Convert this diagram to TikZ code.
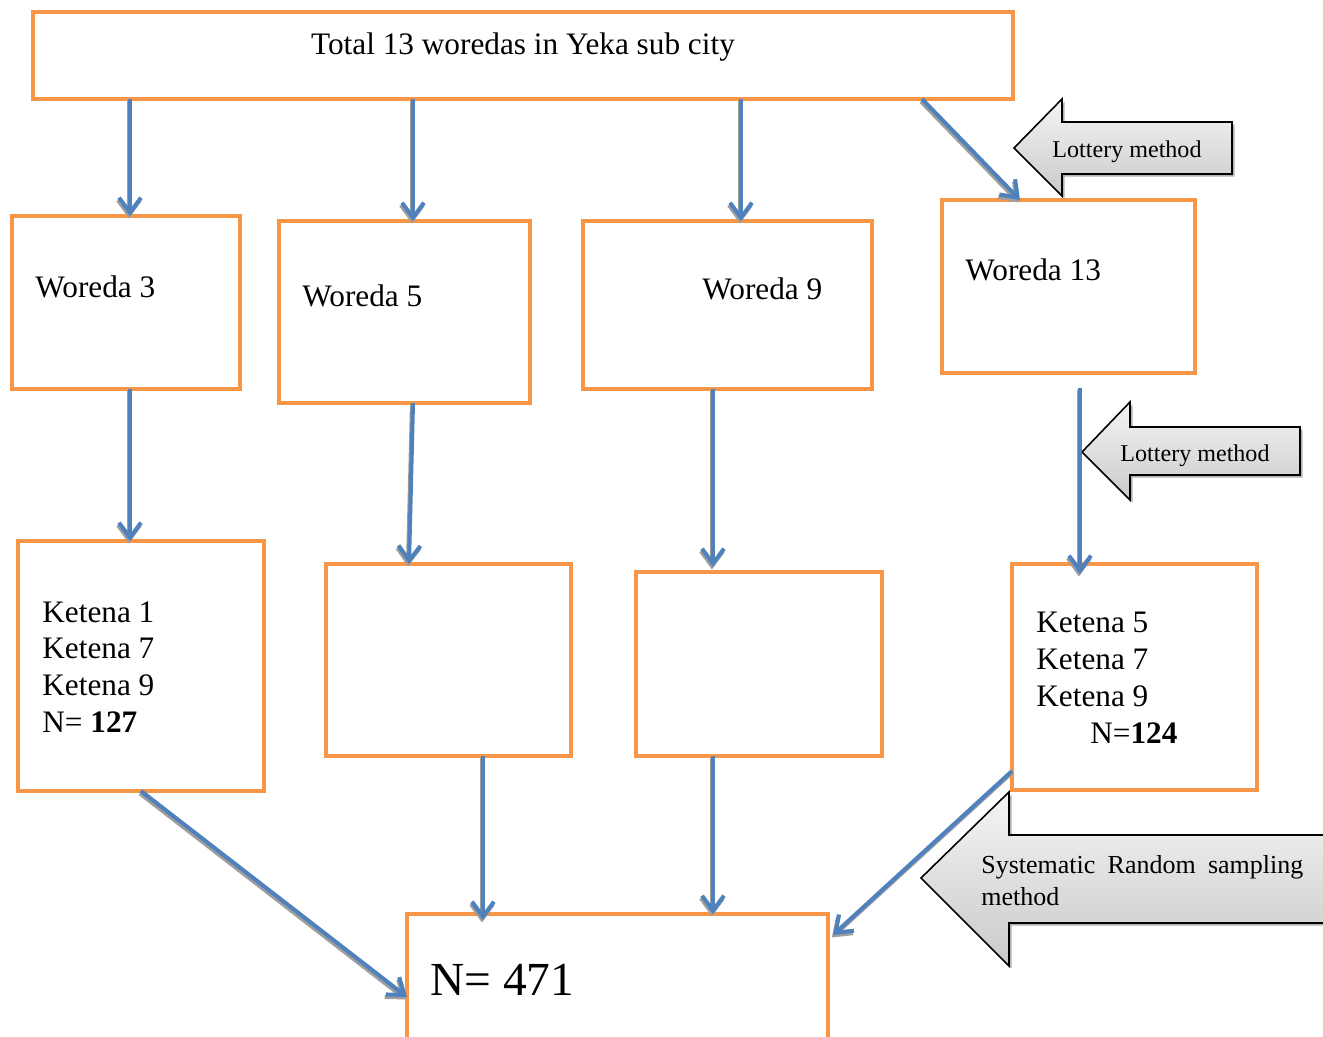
\documentclass[tikz,border=0pt]{standalone}
\usepackage{fontspec}
\setmainfont{Liberation Serif}
\usetikzlibrary{arrows.meta,calc}
\definecolor{orangex}{HTML}{F79646}
\definecolor{bluex}{HTML}{4F81BD}
\def\px{0.02cm}
\tikzset{
  box/.style={draw=orangex,line width=2.2pt,inner sep=0pt,outer sep=0pt},
  ar/.style={-{Straight Barb[length=8.5pt,width=12.5pt]},line width=2.3pt,bluex},
  arshadow/.style={ar,draw=black!38,transform canvas={xshift=-0.6pt,yshift=-1.4pt}},
  callout/.style={draw=black,line width=0.9pt,top color=gray!8,bottom color=gray!42,
    preaction={fill=black!30,transform canvas={xshift=1.5pt,yshift=-1.5pt}}},
  txt/.style={font=\fontsize{17.8}{21}\selectfont,inner sep=0pt},
  small/.style={font=\fontsize{13.7}{18.2}\selectfont,inner sep=0pt}
}
% blue connector with its grey shadow
\newcommand{\link}[2]{%
  \draw[arshadow] #1 -- #2;
  \draw[ar] #1 -- #2;}
\begin{document}
\begin{tikzpicture}[x=\px,y=-\px]
\clip (0,0) rectangle (1323,1036);
% boxes
\node[box,minimum width=980*\px,minimum height=87*\px] (top) at (523,55.5) {};
\node[box,minimum width=228*\px,minimum height=173*\px] (w3) at (126,302.5) {};
\node[box,minimum width=251*\px,minimum height=182*\px] (w5) at (404.5,312) {};
\node[box,minimum width=289*\px,minimum height=168*\px] (w9) at (727.5,305) {};
\node[box,minimum width=253*\px,minimum height=173*\px] (w13) at (1068.5,286.5) {};
\node[box,minimum width=246*\px,minimum height=250*\px] (k3) at (141,666) {};
\node[box,minimum width=245*\px,minimum height=192*\px] (k5) at (448.5,660) {};
\node[box,minimum width=246*\px,minimum height=184*\px] (k9) at (759,664) {};
\node[box,minimum width=245*\px,minimum height=226*\px] (k13) at (1134.5,677) {};
\node[box,minimum width=421*\px,minimum height=160*\px] (total) at (617.5,994) {};
% texts
\node[txt,anchor=base] (toptxt) at (523,54) {Total 13 woredas in Yeka sub city};
\node[txt,anchor=base west] (w3txt) at (35,297) {Woreda 3};
\node[txt,anchor=base west] (w5txt) at (302,306) {Woreda 5};
\node[txt,anchor=base west] (w9txt) at (702,299) {Woreda 9};
\node[txt,anchor=base west] (w13txt) at (965,280) {Woreda 13};
\node[txt,anchor=north west,align=left] (k3txt) at (42,601)
  {Ketena 1\\Ketena 7\\Ketena 9\\N= \textbf{127}};
\node[txt,anchor=north west,align=left] (k13txt) at (1036,612)
  {Ketena 5\\Ketena 7\\Ketena 9\\\hspace*{30.7pt}N=\textbf{124}};
\node[inner sep=0pt,font=\fontsize{27}{32}\selectfont,anchor=base west] (totaltxt) at (430,995) {N= 471};
% callouts
\draw[callout] (1014,148) -- (1062,99) -- (1062,122) -- (1232,122) -- (1232,174)
  -- (1062,174) -- (1062,196) -- cycle;
\draw[callout] (1082,452) -- (1130,402) -- (1130,427) -- (1300,427) -- (1300,475)
  -- (1130,475) -- (1130,500) -- cycle;
\draw[callout] (921,878) -- (1009,792) -- (1009,835) -- (1345,835) -- (1345,923)
  -- (1009,923) -- (1009,966) -- cycle;
\node[small,anchor=base] (lot1) at (1127,157) {Lottery method};
\node[small,anchor=base] (lot2) at (1195,461) {Lottery method};
\node[inner sep=0pt,font=\fontsize{14.8}{18.2}\selectfont,anchor=north west,text width=322*\px,align=left] (sys) at (981,855)
  {Systematic\hfill Random\hfill sampling\\method};
% arrows
\link{([xshift=4*\px]w3.north |- top.south)}{([xshift=4*\px]w3.north)}
\link{([xshift=8.5*\px]w5.north |- top.south)}{([xshift=8.5*\px]w5.north)}
\link{([xshift=13.5*\px]w9.north |- top.south)}{([xshift=13.5*\px]w9.north)}
\link{([xshift=-91*\px]top.south east)}{([xshift=-48.5*\px]w13.north)}
\link{([xshift=4*\px]w3.south)}{([xshift=4*\px]w3.south |- k3.north)}
\link{([xshift=8.5*\px]w5.south)}{([xshift=-39.5*\px]k5.north)}
\link{([xshift=-14.5*\px]w9.south)}{([xshift=-14.5*\px,yshift=5*\px]w9.south |- k9.north)}
\link{([xshift=11.5*\px,yshift=-15*\px]w13.south)}{([xshift=11.5*\px,yshift=-10*\px]w13.south |- k13.north)}
\link{(k3.south)}{([yshift=-2*\px]total.west |- totaltxt.base)}
\link{([xshift=34.5*\px]k5.south)}{([xshift=34.5*\px,yshift=-6*\px]k5.south |- total.north)}
\link{([xshift=-46*\px]k9.south)}{([xshift=-46*\px]k9.south |- total.north)}
\link{([yshift=19*\px]k13.south west)}{([xshift=5*\px,yshift=-21*\px]total.north east)}
\end{tikzpicture}
\end{document}
